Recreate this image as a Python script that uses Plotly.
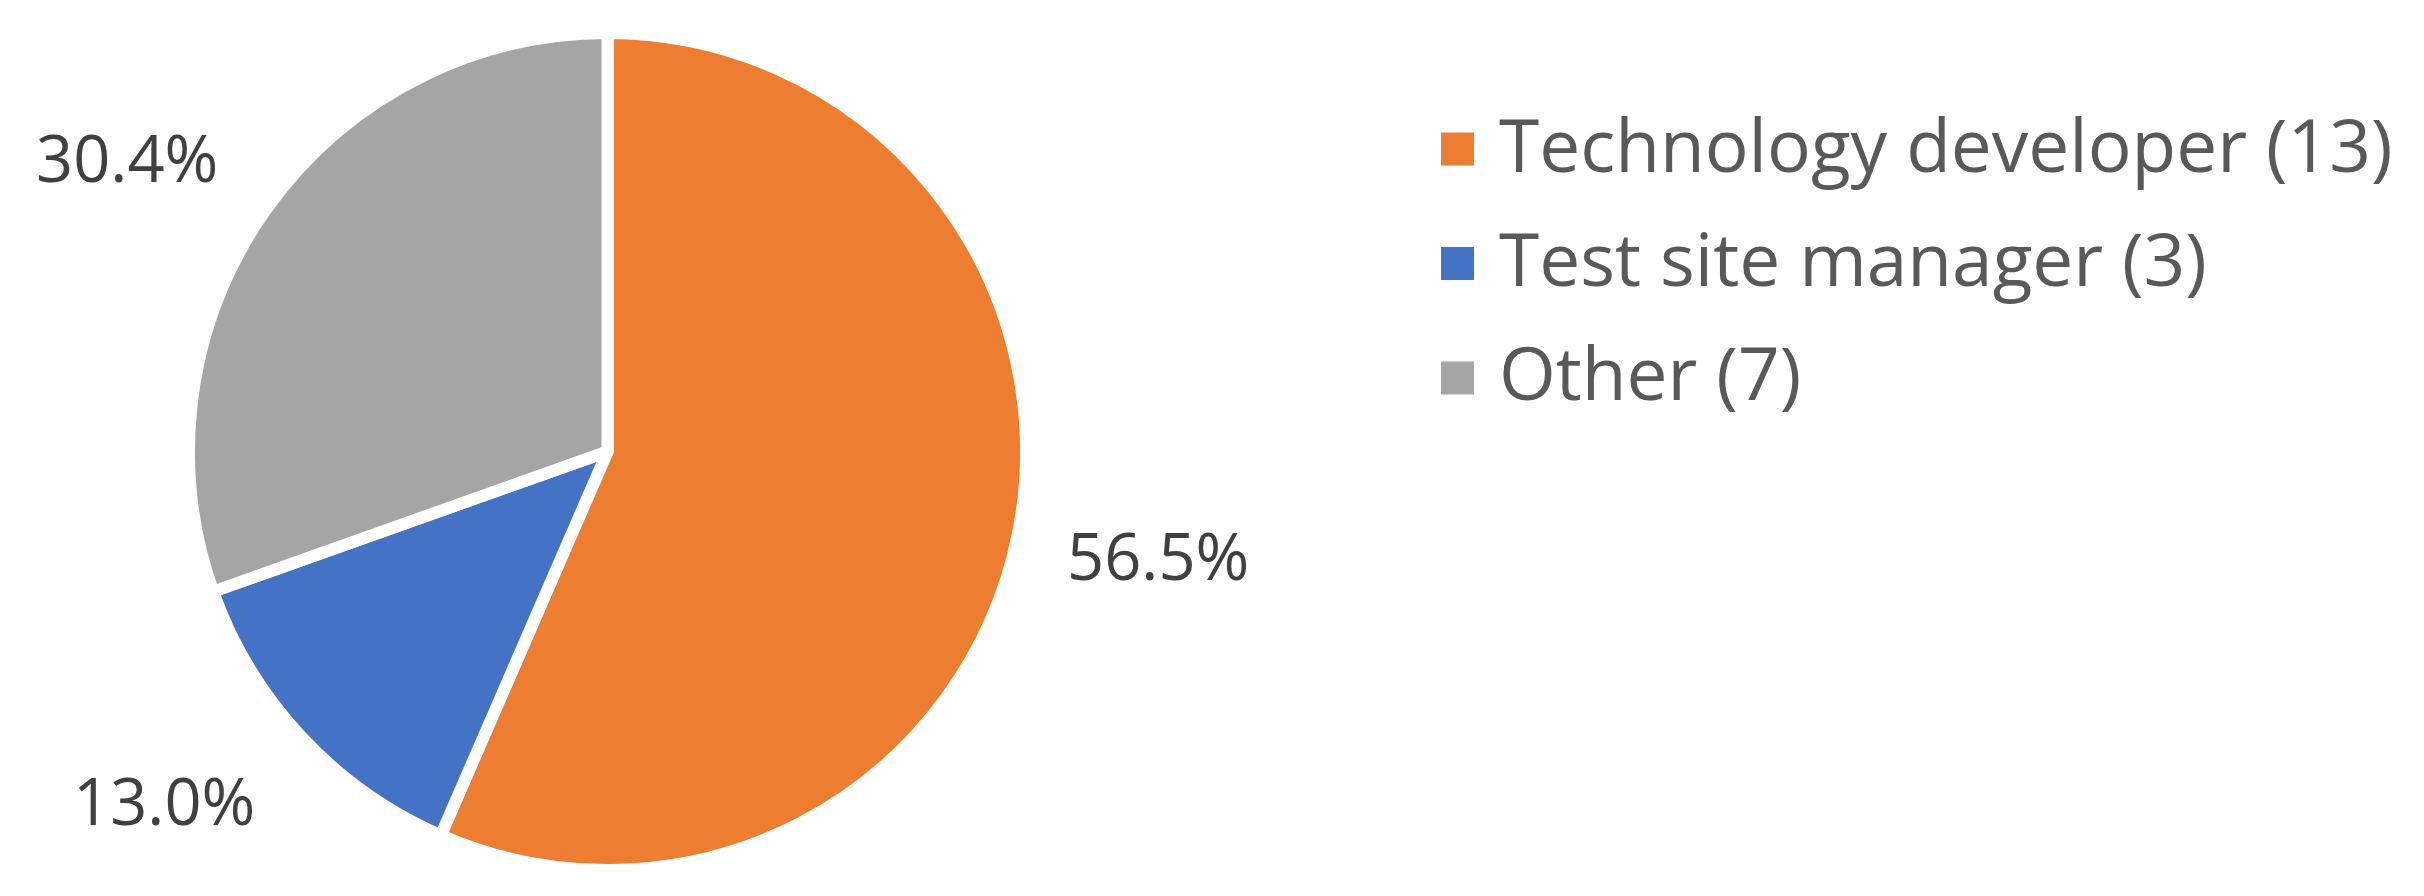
import math
import plotly.graph_objects as go

# data
roles = ['Technology developer', 'Test site manager', 'Other']
counts = [13, 3, 7]
colors = ['#ED7D31', '#4472C4', '#A5A5A5']

# the page body adds an 8px margin, so the figure is drawn 16px smaller
OFF = 8
W, H = 2424 - 2 * OFF, 896 - 2 * OFF
FONT = '"Open Sans", Calibri, Carlito, "Noto Sans", sans-serif'

# pie geometry (screen pixels)
cx, cy, r = 607.5, 451.5, 418.5


def fx(x):
    return (x - OFF) / W


def fy(y):
    return 1 - (y - OFF) / H


fig = go.Figure(go.Pie(
    labels=roles,
    values=counts,
    sort=False,
    direction='clockwise',
    rotation=0,
    marker=dict(colors=colors, line=dict(color='white', width=12)),
    textinfo='none',
    hoverinfo='label+percent',
    showlegend=False,
    domain=dict(x=[fx(cx - r), fx(cx + r)], y=[fy(cy + r), fy(cy - r)]),
))

# percentage labels outside the slices, along each slice's mid angle
total = sum(counts)
cum = 0
for c in counts:
    mid = (cum + c / 2) / total * 2 * math.pi
    cum += c
    ux, uy = math.sin(mid), -math.cos(mid)
    lx = cx + 432 * ux + math.copysign(128, ux)
    ly = cy + 510 * uy
    fig.add_annotation(
        x=fx(lx), y=fy(ly), xref='paper', yref='paper',
        text=f'{c / total * 100:.1f}%', showarrow=False,
        xanchor='center', yanchor='middle',
        font=dict(family=FONT, size=65, color='#404040'),
    )

# legend drawn by hand so the markers match the big text
leg_x, leg_y0, leg_step, box = 1441, 149, 114.5, 33
for i, (name, c, col) in enumerate(zip(roles, counts, colors)):
    yc = leg_y0 + i * leg_step
    fig.add_shape(
        type='rect', xref='paper', yref='paper',
        x0=fx(leg_x), x1=fx(leg_x + box), y0=fy(yc + box / 2), y1=fy(yc - box / 2),
        fillcolor=col, line=dict(width=0),
    )
    fig.add_annotation(
        x=fx(1497), y=fy(yc - 6), xref='paper', yref='paper',
        text=f'{name} ({c})', showarrow=False,
        xanchor='left', yanchor='middle',
        font=dict(family=FONT, size=73, color='#595959'),
    )

fig.update_layout(
    width=W, height=H,
    margin=dict(l=0, r=0, t=0, b=0),
    paper_bgcolor='white',
    plot_bgcolor='white',
)

fig.write_html('out.html')
